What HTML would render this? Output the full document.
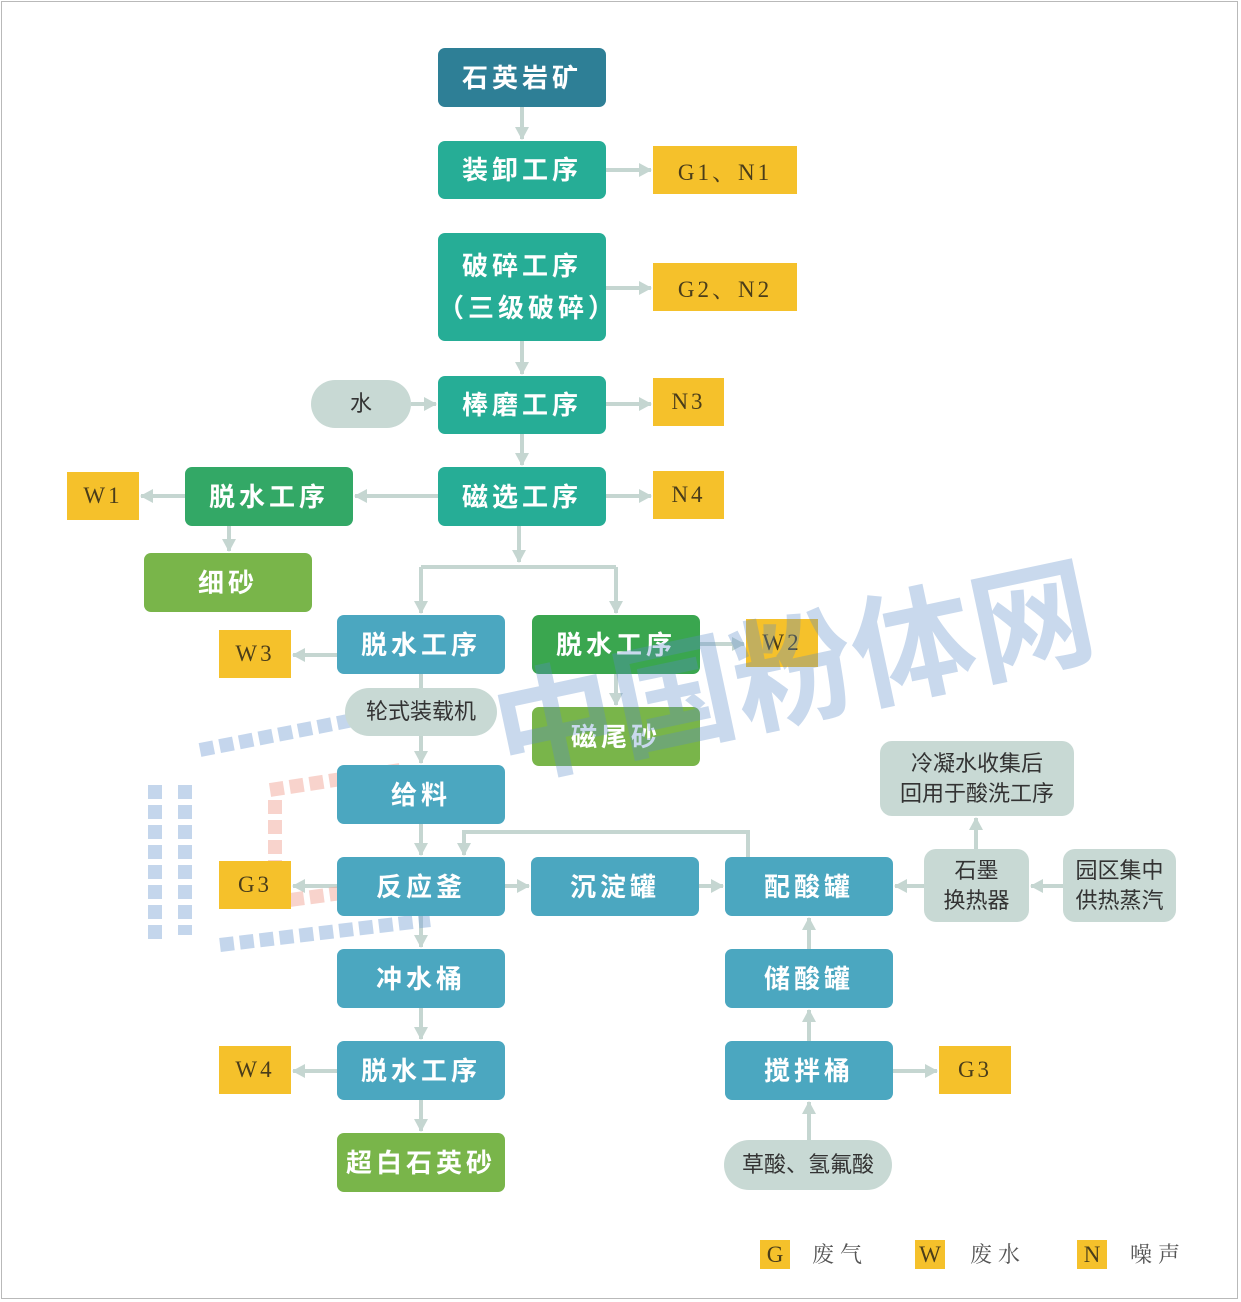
<!DOCTYPE html>
<html><head><meta charset="utf-8"><style>
body{margin:0;background:#fff;}
#c{position:relative;width:1241px;height:1302px;overflow:hidden;background:#fff;font-family:"Liberation Sans","Noto Sans CJK SC",sans-serif;}
.frame{position:absolute;left:1px;top:1px;width:1237px;height:1298px;border:1px solid #b9b9b9;box-sizing:border-box;}
.b{position:absolute;display:flex;align-items:center;justify-content:center;color:#fff;font-weight:bold;font-size:26px;letter-spacing:4px;border-radius:7px;text-align:center;line-height:42px;}
.t{background:#26ad96}.d{background:#2e7f96}.bl{background:#4ba7c0}.g{background:#33a866}.lg{background:#79b54a}.g2{background:#3aa64f}
.y{position:absolute;background:#f5c12b;color:#4a3d1a;font-family:"Liberation Serif","Noto Serif CJK SC",serif;font-size:23px;display:flex;align-items:center;justify-content:center;letter-spacing:3px;}
.p{position:absolute;background:#c8d9d4;color:#333;font-size:22px;display:flex;align-items:center;justify-content:center;text-align:center;line-height:30px;border-radius:25px;}
.r{border-radius:12px;}
.wm{position:absolute;color:rgba(90,140,200,0.33);font-weight:bold;font-size:122px;left:475px;top:640px;transform:rotate(-12deg);transform-origin:left top;white-space:nowrap;font-family:"Noto Sans CJK SC",sans-serif;}
.leg{position:absolute;font-size:22px;color:#555;font-family:"Noto Serif CJK SC",serif;letter-spacing:6px;}
</style></head><body><div id="c">
<div class="frame"></div>
<svg width="1241" height="1302" style="position:absolute;left:0;top:0">
<defs><marker id="a" markerUnits="userSpaceOnUse" markerWidth="14" markerHeight="14" refX="12" refY="7" orient="auto"><path d="M0,0 L13,7 L0,14 Z" fill="#c5d6d1"/></marker></defs>
<g stroke="#c5d6d1" stroke-width="4" fill="none" marker-end="url(#a)">
<path d="M522,107 V139"/>
<path d="M606,170 H651"/>
<path d="M606,288 H651"/>
<path d="M522,341 V374"/>
<path d="M411,404 H436"/>
<path d="M606,404 H651"/>
<path d="M522,434 V465"/>
<path d="M606,496 H651"/>
<path d="M438,496 H355"/>
<path d="M185,496 H141"/>
<path d="M229,526 V551"/>
<path d="M519,526 V562"/>
<path d="M421,567 V613"/>
<path d="M616,567 V613"/>
<path d="M337,655 H293"/>
<path d="M700,644 H744"/>
<path d="M616,674 V705"/>
<path d="M421,736 V763"/>
<path d="M421,824 V855"/>
<path d="M748,857 V832 H464 V855"/>
<path d="M337,886 H293"/>
<path d="M505,886 H529"/>
<path d="M699,886 H723"/>
<path d="M924,886 H895"/>
<path d="M1063,886 H1031"/>
<path d="M976,849 V818"/>
<path d="M421,916 V947"/>
<path d="M421,1008 V1039"/>
<path d="M337,1071 H293"/>
<path d="M421,1100 V1131"/>
<path d="M809,949 V918"/>
<path d="M809,1041 V1010"/>
<path d="M893,1071 H937"/>
<path d="M809,1140 V1102"/>
</g>
<path d="M421,567 H616 M421,674 V688" stroke="#c5d6d1" stroke-width="4" fill="none"/>
<g fill="none" stroke-width="14" stroke-dasharray="14 6" opacity="0.45">
<path d="M200,750 L430,705" stroke="#7ea5d6"/>
<path d="M155,785 V940" stroke="#7ea5d6"/>
<path d="M185,785 V935" stroke="#7ea5d6"/>
<path d="M220,945 L430,920" stroke="#7ea5d6"/>
<path d="M270,790 L400,770" stroke="#f0a090"/>
<path d="M275,800 V905" stroke="#f0a090"/>
<path d="M290,900 L400,885" stroke="#f0a090"/>
</g>
</svg>
<div class="b d" style="left:438px;top:48px;width:168px;height:59px">石英岩矿</div>
<div class="b t" style="left:438px;top:141px;width:168px;height:58px">装卸工序</div>
<div class="y" style="left:653px;top:146px;width:144px;height:48px">G1、N1</div>
<div class="b t" style="left:438px;top:233px;width:168px;height:108px">破碎工序<br>（三级破碎）</div>
<div class="y" style="left:653px;top:263px;width:144px;height:48px">G2、N2</div>
<div class="p" style="left:311px;top:380px;width:100px;height:48px">水</div>
<div class="b t" style="left:438px;top:376px;width:168px;height:58px">棒磨工序</div>
<div class="y" style="left:653px;top:378px;width:71px;height:48px">N3</div>
<div class="b t" style="left:438px;top:467px;width:168px;height:59px">磁选工序</div>
<div class="y" style="left:653px;top:471px;width:71px;height:48px">N4</div>
<div class="b g" style="left:185px;top:467px;width:168px;height:59px">脱水工序</div>
<div class="y" style="left:67px;top:472px;width:72px;height:48px">W1</div>
<div class="b lg" style="left:144px;top:553px;width:168px;height:59px">细砂</div>
<div class="b bl" style="left:337px;top:615px;width:168px;height:59px">脱水工序</div>
<div class="y" style="left:219px;top:630px;width:72px;height:48px">W3</div>
<div class="b g2" style="left:532px;top:615px;width:168px;height:59px">脱水工序</div>
<div class="y" style="left:746px;top:619px;width:72px;height:48px">W2</div>
<div class="p" style="left:345px;top:688px;width:152px;height:48px">轮式装载机</div>
<div class="b lg" style="left:532px;top:707px;width:168px;height:59px">磁尾砂</div>
<div class="b bl" style="left:337px;top:765px;width:168px;height:59px">给料</div>
<div class="b bl" style="left:337px;top:857px;width:168px;height:59px">反应釜</div>
<div class="y" style="left:219px;top:861px;width:72px;height:48px">G3</div>
<div class="b bl" style="left:531px;top:857px;width:168px;height:59px">沉淀罐</div>
<div class="b bl" style="left:725px;top:857px;width:168px;height:59px">配酸罐</div>
<div class="p r" style="left:924px;top:849px;width:105px;height:73px">石墨<br>换热器</div>
<div class="p r" style="left:1063px;top:849px;width:113px;height:73px">园区集中<br>供热蒸汽</div>
<div class="p r" style="left:880px;top:741px;width:194px;height:75px">冷凝水收集后<br>回用于酸洗工序</div>
<div class="b bl" style="left:337px;top:949px;width:168px;height:59px">冲水桶</div>
<div class="b bl" style="left:725px;top:949px;width:168px;height:59px">储酸罐</div>
<div class="b bl" style="left:337px;top:1041px;width:168px;height:59px">脱水工序</div>
<div class="y" style="left:219px;top:1046px;width:72px;height:48px">W4</div>
<div class="b bl" style="left:725px;top:1041px;width:168px;height:59px">搅拌桶</div>
<div class="y" style="left:939px;top:1046px;width:72px;height:48px">G3</div>
<div class="b lg" style="left:337px;top:1133px;width:168px;height:59px">超白石英砂</div>
<div class="p" style="left:724px;top:1140px;width:168px;height:50px">草酸、氢氟酸</div>
<div class="y" style="left:760px;top:1240px;width:30px;height:29px;letter-spacing:0">G</div>
<div class="leg" style="left:812px;top:1238px">废气</div>
<div class="y" style="left:915px;top:1240px;width:30px;height:29px;letter-spacing:0">W</div>
<div class="leg" style="left:970px;top:1238px">废水</div>
<div class="y" style="left:1077px;top:1240px;width:30px;height:29px;letter-spacing:0">N</div>
<div class="leg" style="left:1130px;top:1238px">噪声</div>
<div class="wm">中国粉体网</div>
</div></body></html>
